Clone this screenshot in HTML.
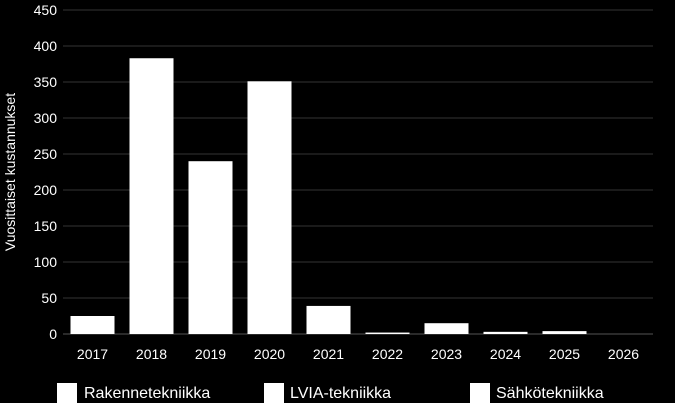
<!DOCTYPE html>
<html><head><meta charset="utf-8"><style>
html,body{margin:0;padding:0;background:#000;}
svg{display:block;font-family:"Liberation Sans",sans-serif;}
</style></head><body>
<svg id="chart" width="675" height="403">
<g id="grid"></g>
<g id="bars"></g>
<g id="yaxis"></g>
<g id="xaxis"></g>
<text transform="translate(15,172) rotate(-90)" fill="#fff" font-size="14" text-anchor="middle">Vuosittaiset kustannukset</text>
<g>
<g><rect x="57" y="383" width="20" height="20" fill="#fff"/><text x="84" y="398" fill="#fff" font-size="16">Rakennetekniikka</text></g>
<g><rect x="264" y="383" width="20" height="20" fill="#fff"/><text x="290" y="398" fill="#fff" font-size="16">LVIA-tekniikka</text></g>
<g><rect x="470" y="383" width="20" height="20" fill="#fff"/><text x="496" y="398" fill="#fff" font-size="16">Sähkötekniikka</text></g>
</g>
</svg>
<script>
const categories=["2017","2018","2019","2020","2021","2022","2023","2024","2025","2026"];
const values=[25,383,240,351,39,2,15,3,4,0];
const yTicks=[0,50,100,150,200,250,300,350,400,450];
const NS="http://www.w3.org/2000/svg";
const x0=63,x1=653,yb=334,yt=10,yMax=450;
const band=(x1-x0)/categories.length;
const y=v=>yb-(v/yMax)*(yb-yt);
const xc=i=>x0+band*(i+0.5);
function mk(t,a,p){const e=document.createElementNS(NS,t);for(const k in a)e.setAttribute(k,a[k]);p.appendChild(e);return e;}
const grid=document.getElementById('grid'),ya=document.getElementById('yaxis'),xa=document.getElementById('xaxis'),bars=document.getElementById('bars');
yTicks.forEach(t=>{
 const l=mk('line',{x1:x0,x2:x1,y1:y(t),y2:y(t),stroke:t===0?'#555':'#333','stroke-width':1},grid);
 
 
 const tx=mk('text',{x:57,y:y(t)+5,fill:'#fff','font-size':14,'text-anchor':'end'},ya);
 tx.textContent=t;
 
 
});
categories.forEach((c,i)=>{
 const r=mk('rect',{x:xc(i)-22,width:44,y:y(values[i]),height:yb-y(values[i]),fill:'#fff'},bars);
 
 
 const tx=mk('text',{x:xc(i),y:359,fill:'#fff','font-size':14,'text-anchor':'middle'},xa);
 tx.textContent=c;
 
 
});
</script>
</body></html>
